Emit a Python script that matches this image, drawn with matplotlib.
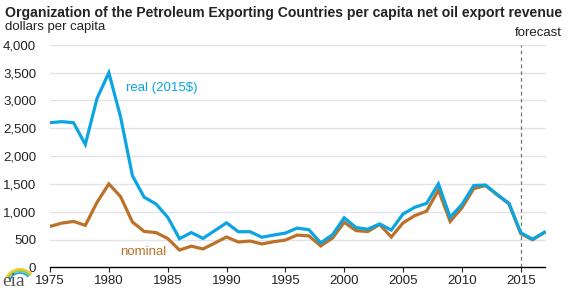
import numpy as np
import matplotlib.pyplot as plt
from matplotlib.patches import Arc

plt.rcParams['font.family'] = ['Liberation Sans', 'DejaVu Sans']

# OPEC per capita net oil export revenue, dollars per capita
years = list(range(1975, 2018))
real = [2600, 2620, 2600, 2210, 3040, 3500, 2700, 1650, 1260, 1140, 900,
        515, 625, 520, 660, 800, 640, 640, 540, 580, 615, 705, 675,
        440, 585, 890, 715, 685, 780, 670, 960, 1080, 1150, 1500,
        900, 1130, 1470, 1480, 1310, 1150, 620, 505, 630]
nominal = [735, 795, 825, 755, 1170, 1500, 1270, 815, 645, 625, 518,
           310, 380, 330, 436, 545, 455, 472, 420, 460, 490, 580, 565,
           385, 525, 810, 660, 642, 770, 545, 800, 930, 1010, 1390,
           825, 1070, 1415, 1470, 1300, 1140, 605, 495, 625]
xticks = [1975, 1980, 1985, 1990, 1995, 2000, 2005, 2010, 2015]
yticks = [0, 500, 1000, 1500, 2000, 2500, 3000, 3500, 4000]

blue = '#0ba5e2'
brown = '#bb7128'

fig = plt.figure(figsize=(5.68, 2.89), dpi=100)
ax = fig.add_axes([50 / 568, 21.7 / 289, 495.5 / 568, 222.4 / 289])

for y in yticks[1:]:
    ax.axhline(y, color='#e2e2ec', lw=1, zorder=0)

ax.plot(years, nominal, color=brown, lw=2.3, solid_joinstyle='miter', zorder=2)
ax.plot(years, real, color=blue, lw=2.3, solid_joinstyle='miter', zorder=3)
ax.axvline(2015, color='#777777', lw=0.9, ls=(0, (3, 2.5)), ymax=1.0, zorder=1)

ax.set_xlim(1975, 2017.1)
ax.set_ylim(0, 4000)
ax.set_xticks(xticks)
ax.set_yticks(yticks)
ax.set_yticklabels(['{:,}'.format(v) for v in yticks])
ax.tick_params(axis='y', length=0, pad=10, labelsize=9.5, colors='#222222')
ax.tick_params(axis='x', length=3.8, width=0.8, pad=2, labelsize=9.5, colors='#222222')
for s in ['top', 'right', 'left']:
    ax.spines[s].set_visible(False)
ax.spines['bottom'].set_linewidth(1)

ax.text(1981.45, 3220, 'real (2015$)', color=blue, fontsize=9.5, va='center')
ax.text(1981.0, 280, 'nominal', color=brown, fontsize=9.5, va='center')

fig.text(5 / 568, 1 - 13 / 289, 'Organization of the Petroleum Exporting Countries per capita net oil export revenue',
         fontsize=10.1, fontweight='bold', color='#222222', va='center')
fig.text(5 / 568, 1 - 27 / 289, 'dollars per capita', fontsize=9.5, color='#222222', va='center')
fig.text(515 / 568, 1 - 33 / 289, 'forecast', fontsize=9.5, color='#222222', va='center')

# eia logo, roughly
fig.text(2 / 568, 3 / 289, 'eia', fontsize=14, color='#555555', family='Liberation Serif', va='baseline')
lax = fig.add_axes([0, 0, 1, 1], facecolor='none')
lax.set_axis_off()
lax.set_xlim(0, 568)
lax.set_ylim(289, 0)
for r, c in [(15, '#f2c419'), (13, '#8cc63f'), (11, '#27a9e1')]:
    lax.add_patch(Arc((20, 284), 2 * r, 2 * r, theta1=205, theta2=320, color=c, lw=1.3))

fig.savefig('out.png', dpi=100)
